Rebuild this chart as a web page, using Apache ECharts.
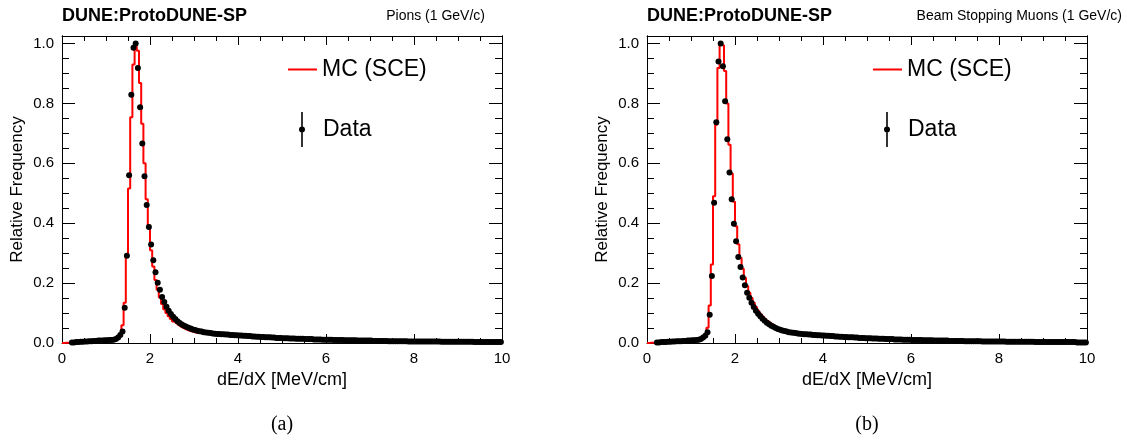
<!DOCTYPE html>
<html>
<head>
<meta charset="utf-8">
<script src="https://cdn.jsdelivr.net/npm/echarts@6/dist/echarts.min.js"></script>
<style>
html, body { margin: 0; padding: 0; background: #fff; }
#main { width: 1127px; height: 443px; }
</style>
</head>
<body>
<div id="main"></div>
<script>
// dE/dX histograms, 200 bins of 0.05 MeV/cm from 0 to 10
var binWidth = 0.05;
var xRange = [0, 10];
var yRange = [0, 1.025];

// pions, MC (SCE), one value per bin
var pionMC = [
    0, 0.001, 0.001, 0.002, 0.002, 0.003, 0.003, 0.004, 0.004, 0.004,
    0.005, 0.005, 0.006, 0.006, 0.006, 0.007, 0.007, 0.008, 0.008, 0.008,
    0.009, 0.009, 0.010, 0.011, 0.013, 0.016, 0.027, 0.059, 0.134, 0.290,
    0.516, 0.754, 0.930, 0.990, 0.976, 0.868, 0.732, 0.600, 0.480, 0.393,
    0.310, 0.255, 0.210, 0.178, 0.152, 0.130, 0.113, 0.100, 0.089, 0.080,
    0.072, 0.066, 0.060, 0.055, 0.051, 0.047, 0.044, 0.041, 0.039, 0.037,
    0.035, 0.034, 0.033, 0.032, 0.031, 0.030, 0.030, 0.029, 0.029, 0.028,
    0.028, 0.028, 0.027, 0.027, 0.027, 0.026, 0.026, 0.026, 0.025, 0.025,
    0.025, 0.024, 0.024, 0.023, 0.023, 0.022, 0.022, 0.021, 0.021, 0.020,
    0.020, 0.020, 0.019, 0.019, 0.018, 0.018, 0.018, 0.017, 0.017, 0.017,
    0.016, 0.016, 0.016, 0.015, 0.015, 0.015, 0.014, 0.014, 0.014, 0.014,
    0.013, 0.013, 0.013, 0.012, 0.012, 0.012, 0.012, 0.012, 0.011, 0.011,
    0.011, 0.011, 0.010, 0.010, 0.010, 0.010, 0.010, 0.009, 0.009, 0.009,
    0.009, 0.009, 0.009, 0.008, 0.008, 0.008, 0.008, 0.008, 0.008, 0.008,
    0.007, 0.007, 0.007, 0.007, 0.007, 0.007, 0.007, 0.006, 0.006, 0.006,
    0.006, 0.006, 0.006, 0.006, 0.006, 0.006, 0.005, 0.005, 0.005, 0.005,
    0.005, 0.005, 0.005, 0.005, 0.005, 0.005, 0.005, 0.005, 0.005, 0.005,
    0.005, 0.004, 0.004, 0.004, 0.004, 0.004, 0.004, 0.004, 0.004, 0.004,
    0.004, 0.004, 0.004, 0.004, 0.004, 0.004, 0.003, 0.003, 0.003, 0.003,
    0.003, 0.003, 0.003, 0.003, 0.003, 0.003, 0.003, 0.003, 0.003, 0.003
];
// pions, data (null = empty bin)
var pionData = [
    null, null, null, null, 0.002, 0.002, 0.003, 0.003, 0.004, 0.004,
    0.005, 0.005, 0.006, 0.006, 0.007, 0.007, 0.008, 0.008, 0.008, 0.009,
    0.009, 0.010, 0.010, 0.011, 0.013, 0.018, 0.027, 0.038, 0.118, 0.291,
    0.560, 0.829, 0.986, 1.000, 0.918, 0.787, 0.666, 0.557, 0.461, 0.387,
    0.329, 0.276, 0.236, 0.201, 0.178, 0.154, 0.137, 0.121, 0.108, 0.097,
    0.088, 0.080, 0.073, 0.067, 0.062, 0.058, 0.054, 0.051, 0.048, 0.045,
    0.043, 0.041, 0.039, 0.038, 0.036, 0.035, 0.034, 0.033, 0.032, 0.031,
    0.030, 0.030, 0.029, 0.029, 0.028, 0.028, 0.027, 0.027, 0.026, 0.026,
    0.025, 0.025, 0.024, 0.024, 0.023, 0.023, 0.022, 0.022, 0.021, 0.021,
    0.020, 0.020, 0.019, 0.019, 0.019, 0.018, 0.018, 0.017, 0.017, 0.017,
    0.016, 0.016, 0.016, 0.015, 0.015, 0.015, 0.014, 0.014, 0.014, 0.014,
    0.013, 0.013, 0.013, 0.013, 0.012, 0.012, 0.012, 0.012, 0.011, 0.011,
    0.011, 0.011, 0.011, 0.010, 0.010, 0.010, 0.010, 0.010, 0.009, 0.009,
    0.009, 0.009, 0.009, 0.009, 0.008, 0.008, 0.008, 0.008, 0.008, 0.008,
    0.008, 0.007, 0.007, 0.007, 0.007, 0.007, 0.007, 0.007, 0.006, 0.006,
    0.006, 0.006, 0.006, 0.006, 0.006, 0.006, 0.006, 0.005, 0.005, 0.005,
    0.005, 0.005, 0.005, 0.005, 0.005, 0.005, 0.005, 0.005, 0.005, 0.005,
    0.005, 0.005, 0.004, 0.004, 0.004, 0.004, 0.004, 0.004, 0.004, 0.004,
    0.004, 0.004, 0.004, 0.004, 0.004, 0.004, 0.004, 0.003, 0.003, 0.003,
    0.003, 0.003, 0.003, 0.003, 0.003, 0.003, 0.003, 0.003, 0.003, 0.003
];
// beam stopping muons, MC (SCE)
var muonMC = [
    0, 0.001, 0.001, 0.002, 0.002, 0.002, 0.003, 0.003, 0.003, 0.004,
    0.004, 0.005, 0.005, 0.005, 0.006, 0.006, 0.007, 0.007, 0.007, 0.008,
    0.008, 0.009, 0.010, 0.011, 0.012, 0.016, 0.027, 0.051, 0.125, 0.262,
    0.490, 0.729, 0.918, 0.995, 0.993, 0.908, 0.800, 0.662, 0.566, 0.472,
    0.390, 0.330, 0.284, 0.248, 0.218, 0.190, 0.168, 0.150, 0.134, 0.120,
    0.108, 0.098, 0.089, 0.081, 0.074, 0.068, 0.063, 0.058, 0.054, 0.050,
    0.047, 0.044, 0.042, 0.040, 0.038, 0.036, 0.035, 0.034, 0.033, 0.032,
    0.031, 0.030, 0.029, 0.029, 0.028, 0.028, 0.027, 0.027, 0.026, 0.026,
    0.025, 0.025, 0.024, 0.024, 0.023, 0.023, 0.022, 0.022, 0.021, 0.021,
    0.020, 0.020, 0.019, 0.019, 0.018, 0.018, 0.018, 0.017, 0.017, 0.016,
    0.016, 0.016, 0.015, 0.015, 0.015, 0.014, 0.014, 0.014, 0.013, 0.013,
    0.013, 0.013, 0.012, 0.012, 0.012, 0.012, 0.011, 0.011, 0.011, 0.011,
    0.010, 0.010, 0.010, 0.010, 0.010, 0.009, 0.009, 0.009, 0.009, 0.009,
    0.008, 0.008, 0.008, 0.008, 0.008, 0.008, 0.008, 0.007, 0.007, 0.007,
    0.007, 0.007, 0.007, 0.007, 0.006, 0.006, 0.006, 0.006, 0.006, 0.006,
    0.006, 0.006, 0.005, 0.005, 0.005, 0.005, 0.005, 0.005, 0.005, 0.005,
    0.005, 0.005, 0.005, 0.004, 0.004, 0.004, 0.004, 0.004, 0.004, 0.004,
    0.004, 0.004, 0.004, 0.004, 0.004, 0.004, 0.003, 0.003, 0.003, 0.003,
    0.003, 0.003, 0.003, 0.003, 0.003, 0.003, 0.003, 0.003, 0.003, 0.003,
    0.003, 0.003, 0.003, 0.003, 0.003, 0.002, 0.002, 0.002, 0.002, 0.002
];
// beam stopping muons, data
var muonData = [
    null, null, null, null, 0.002, 0.002, 0.003, 0.003, 0.003, 0.004,
    0.004, 0.005, 0.005, 0.006, 0.006, 0.006, 0.007, 0.007, 0.008, 0.008,
    0.009, 0.009, 0.010, 0.011, 0.013, 0.018, 0.024, 0.036, 0.094, 0.224,
    0.468, 0.737, 0.940, 1.000, 0.924, 0.807, 0.680, 0.569, 0.480, 0.398,
    0.340, 0.287, 0.254, 0.219, 0.193, 0.168, 0.151, 0.134, 0.120, 0.108,
    0.098, 0.089, 0.081, 0.074, 0.068, 0.063, 0.058, 0.054, 0.050, 0.047,
    0.044, 0.042, 0.040, 0.038, 0.036, 0.035, 0.034, 0.033, 0.032, 0.031,
    0.030, 0.029, 0.029, 0.028, 0.028, 0.027, 0.027, 0.026, 0.026, 0.025,
    0.025, 0.024, 0.024, 0.023, 0.023, 0.022, 0.022, 0.021, 0.021, 0.020,
    0.020, 0.019, 0.019, 0.019, 0.018, 0.018, 0.017, 0.017, 0.017, 0.016,
    0.016, 0.016, 0.015, 0.015, 0.015, 0.014, 0.014, 0.014, 0.013, 0.013,
    0.013, 0.013, 0.012, 0.012, 0.012, 0.012, 0.011, 0.011, 0.011, 0.011,
    0.010, 0.010, 0.010, 0.010, 0.010, 0.009, 0.009, 0.009, 0.009, 0.009,
    0.008, 0.008, 0.008, 0.008, 0.008, 0.008, 0.008, 0.007, 0.007, 0.007,
    0.007, 0.007, 0.007, 0.007, 0.006, 0.006, 0.006, 0.006, 0.006, 0.006,
    0.006, 0.006, 0.005, 0.005, 0.005, 0.005, 0.005, 0.005, 0.005, 0.005,
    0.005, 0.005, 0.005, 0.004, 0.004, 0.004, 0.004, 0.004, 0.004, 0.004,
    0.004, 0.004, 0.004, 0.004, 0.004, 0.004, 0.003, 0.003, 0.003, 0.003,
    0.003, 0.003, 0.003, 0.003, 0.003, 0.003, 0.003, 0.003, 0.003, 0.003,
    0.003, 0.003, 0.003, 0.003, 0.003, 0.002, 0.002, 0.002, 0.002, 0.002
];

var panelTitles = ['Pions (1 GeV/c)', 'Beam Stopping Muons (1 GeV/c)'];
var panelCaptions = ['(a)', '(b)'];
var experimentLabel = 'DUNE:ProtoDUNE-SP';
var xAxisName = 'dE/dX [MeV/cm]';
var yAxisName = 'Relative Frequency';
var mcName = 'MC (SCE)';
var dataName = 'Data';

var font = 'Liberation Sans, Arial, Helvetica, sans-serif';
var panelLeft = [62, 647];

// histogram as step points on bin edges
function histPoints(values) {
    var pts = [];
    values.forEach(function (v, i) {
        pts.push([xRange[0] + i * binWidth, v]);
    });
    pts.push([xRange[0] + values.length * binWidth, values[values.length - 1]]);
    return pts;
}
function dataPoints(values) {
    var pts = [];
    values.forEach(function (v, i) {
        if (v !== null) pts.push([xRange[0] + (i + 0.5) * binWidth, v]);
    });
    return pts;
}

var grids = [], xAxes = [], yAxes = [], series = [], titles = [], legends = [];

[[pionMC, pionData], [muonMC, muonData]].forEach(function (set, g) {
    var left = panelLeft[g];
    grids.push({ left: left, top: 36, width: 440, height: 307 });

    ['bottom', 'top'].forEach(function (pos) {
        xAxes.push({
            gridIndex: g, type: 'value', position: pos,
            min: xRange[0], max: xRange[1], interval: 2,
            axisLine: { show: true, onZero: false, lineStyle: { color: '#000', width: 1 } },
            axisTick: { show: true, inside: true, length: 9, lineStyle: { color: '#000' } },
            minorTick: { show: true, splitNumber: 4, length: 5, lineStyle: { color: '#000' } },
            splitLine: { show: false },
            axisLabel: pos === 'bottom'
                ? { show: true, color: '#000', fontSize: 15, fontFamily: font, margin: 8 }
                : { show: false },
            name: pos === 'bottom' ? xAxisName : '',
            nameLocation: 'middle', nameGap: 22,
            nameTextStyle: { color: '#000', fontSize: 18, fontFamily: font }
        });
    });

    // major and minor y ticks as separate axes, so the frame top does not add odd ticks
    [['left', true], ['left', false], ['right', true], ['right', false]].forEach(function (a) {
        var major = a[1];
        yAxes.push({
            gridIndex: g, type: 'value', position: a[0],
            min: yRange[0], max: yRange[1], interval: major ? 0.2 : 0.05,
            axisLine: { show: true, onZero: false, lineStyle: { color: '#000', width: 1 } },
            axisTick: { show: true, inside: true, length: major ? 13 : 7, lineStyle: { color: '#000' } },
            splitLine: { show: false },
            axisLabel: (a[0] === 'left' && major) ? {
                show: true, color: '#000', fontSize: 15, fontFamily: font, margin: 8,
                formatter: function (v) {
                    return Math.abs(v / 0.2 - Math.round(v / 0.2)) < 1e-6 ? v.toFixed(1) : '';
                }
            } : { show: false },
            name: (a[0] === 'left' && major) ? yAxisName : '',
            nameLocation: 'middle', nameGap: 36,
            nameTextStyle: { color: '#000', fontSize: 17, fontFamily: font }
        });
    });

    series.push({
        name: mcName, type: 'line', step: 'end',
        xAxisIndex: g * 2, yAxisIndex: g * 4,
        data: histPoints(set[0]),
        symbol: 'none', color: '#ff0000',
        lineStyle: { color: '#ff0000', width: 2 },
        itemStyle: { color: '#ff0000' },
        animation: false, z: 2
    });
    series.push({
        name: dataName, type: 'scatter',
        xAxisIndex: g * 2, yAxisIndex: g * 4,
        data: dataPoints(set[1]),
        symbol: 'circle', symbolSize: 6,
        itemStyle: { color: '#000', opacity: 1 },
        animation: false, z: 3
    });

    titles.push({
        text: experimentLabel, left: left, top: 7, padding: 0,
        textStyle: { color: '#000', fontSize: 18, fontWeight: 'bold', fontFamily: font }
    });
    titles.push({
        text: panelTitles[g], right: g === 0 ? 642 : 5, top: 9, padding: 0,
        textStyle: { color: '#000', fontSize: 14, fontWeight: 'normal', fontFamily: font }
    });
    titles.push({
        text: panelCaptions[g], left: left + 220, top: 415, textAlign: 'center', padding: 0,
        textStyle: { color: '#000', fontSize: 20, fontWeight: 'normal',
            fontFamily: 'Liberation Serif, Times New Roman, serif' }
    });

    legends.push({
        data: [{ name: mcName, icon: 'rect' }],
        left: left + 226, top: 58, padding: 0, itemWidth: 29, itemHeight: 2,
        selectedMode: false,
        textStyle: { color: '#000', fontSize: 23, fontFamily: font }
    });
    legends.push({
        data: [{ name: dataName,
            icon: 'path://M2.2,0h1.6v15h-1.6z M2.2,20h1.6v15h-1.6z M0,17.5a3,3 0 1,1 6,0a3,3 0 1,1 -6,0z' }],
        left: left + 237, top: 112, padding: 0, itemWidth: 6, itemHeight: 35,
        selectedMode: false,
        itemStyle: { color: '#000', opacity: 1 },
        textStyle: { color: '#000', fontSize: 23, fontFamily: font, padding: [0, 0, 0, 13] }
    });
});

var chart = echarts.init(document.getElementById('main'), null, { renderer: 'canvas' });
chart.setOption({
    backgroundColor: '#fff',
    animation: false,
    title: titles,
    legend: legends,
    grid: grids,
    xAxis: xAxes,
    yAxis: yAxes,
    series: series
});
</script>
</body>
</html>
